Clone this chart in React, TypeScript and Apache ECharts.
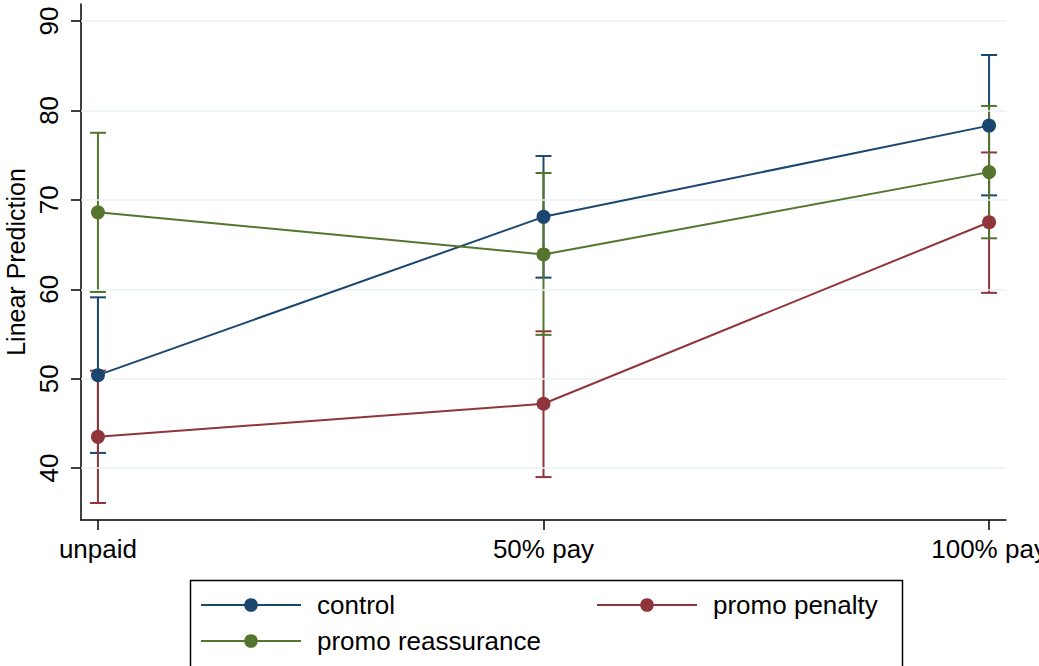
import React, { useEffect, useRef } from "react";
import * as echarts from "echarts";

const categories = ["unpaid", "50% pay", "100% pay"];
const seriesNames = ["control", "promo penalty", "promo reassurance"];
const colors = ["#1a476f", "#90353b", "#55752f"];

const controlMean = [50.4, 68.1, 78.3];
const controlLow = [41.7, 61.3, 70.5];
const controlHigh = [59.1, 74.9, 86.2];

const penaltyMean = [43.5, 47.2, 67.5];
const penaltyLow = [36.1, 39.0, 59.6];
const penaltyHigh = [50.9, 55.3, 75.3];

const reassMean = [68.6, 63.9, 73.1];
const reassLow = [59.7, 54.9, 65.7];
const reassHigh = [77.5, 73.0, 80.5];

const yTicks = [40, 50, 60, 70, 80, 90];
const xTicks = [0, 1, 2];

const FONT = "'Liberation Sans', Helvetica, Arial, sans-serif";

export default function App() {
  const ref = useRef<HTMLDivElement>(null);

  useEffect(() => {
    if (!ref.current) return;
    const chart = echarts.init(ref.current, null, { renderer: "svg" });

    const means = [controlMean, penaltyMean, reassMean];
    const lows = [controlLow, penaltyLow, reassLow];
    const highs = [controlHigh, penaltyHigh, reassHigh];

    const errSeries = means.map((m, s) => ({
      type: "custom",
      name: seriesNames[s] + " CI",
      z: 2,
      silent: true,
      encode: { x: 0, y: [1, 2] },
      data: m.map((_, i) => [i, lows[s][i], highs[s][i]]),
      renderItem: (params: any, api: any) => {
        const x = api.value(0);
        const lo = api.coord([x, api.value(1)]);
        const hi = api.coord([x, api.value(2)]);
        const half = 8;
        const st = { stroke: colors[s], lineWidth: 2 };
        return {
          type: "group",
          children: [
            { type: "line", shape: { x1: lo[0], y1: lo[1], x2: hi[0], y2: hi[1] }, style: st },
            { type: "line", shape: { x1: lo[0] - half, y1: lo[1], x2: lo[0] + half, y2: lo[1] }, style: st },
            { type: "line", shape: { x1: hi[0] - half, y1: hi[1], x2: hi[0] + half, y2: hi[1] }, style: st },
          ],
        };
      },
    }));

    const lineSeries = means.map((m, s) => ({
      type: "line",
      name: seriesNames[s],
      z: 10,
      clip: false,
      data: m.map((v, i) => [i, v]),
      symbol: "circle",
      symbolSize: 14,
      showAllSymbol: true,
      color: colors[s],
      itemStyle: { color: colors[s], opacity: 1 },
      lineStyle: { color: colors[s], width: 2 },
    }));

    const gridSeries = {
      type: "line",
      name: "grid",
      z: 1,
      data: [],
      silent: true,
      markLine: {
        silent: true,
        symbol: "none",
        label: { show: false },
        lineStyle: { color: "#eaf2f3", width: 1.5, type: "solid" },
        data: yTicks.map((v) => ({ yAxis: v })),
      },
    };

    const legendCommon = {
      orient: "horizontal",
      padding: 0,
      itemWidth: 100,
      itemHeight: 17,
      selectedMode: false,
      textStyle: { fontFamily: FONT, fontSize: 26, color: "#000", padding: [0, 0, 0, 11] },
    };

    chart.setOption({
      animation: false,
      backgroundColor: "#fff",
      textStyle: { fontFamily: FONT },
      grid: { left: 81, right: 33, top: 4, bottom: 146, containLabel: false, outerBoundsMode: "none" },
      xAxis: {
        type: "value",
        min: -0.038,
        max: 2.038,
        axisLine: { show: true, onZero: false, lineStyle: { color: "#000", width: 1.5 } },
        axisTick: { show: true, length: 10, customValues: xTicks, lineStyle: { color: "#000", width: 1.5 } },
        axisLabel: {
          customValues: xTicks,
          formatter: (v: number) => categories[Math.round(v)],
          fontFamily: FONT,
          fontSize: 26,
          color: "#000",
          margin: 16,
          hideOverlap: false,
        },
        splitLine: { show: false },
      },
      yAxis: {
        type: "value",
        min: 34.2,
        max: 91.9,
        name: "Linear Prediction",
        nameLocation: "middle",
        nameRotate: 90,
        nameGap: 47,
        nameTextStyle: { fontFamily: FONT, fontSize: 25, color: "#000" },
        axisLine: { show: true, onZero: false, lineStyle: { color: "#000", width: 1.5 } },
        axisTick: { show: true, length: 10, customValues: yTicks, lineStyle: { color: "#000", width: 1.5 } },
        axisLabel: {
          customValues: yTicks,
          rotate: 90,
          fontFamily: FONT,
          fontSize: 26,
          color: "#000",
          margin: 19,
        },
        splitLine: { show: false },
      },
      legend: [
        { ...legendCommon, left: 200, top: 592, data: ["control"] },
        { ...legendCommon, left: 596, top: 592, data: ["promo penalty"] },
        { ...legendCommon, left: 200, top: 628, data: ["promo reassurance"] },
      ],
      graphic: [
        {
          type: "rect",
          left: 188,
          top: 578,
          shape: { width: 712, height: 120 },
          style: { fill: "none", stroke: "#000", lineWidth: 1.5 },
          silent: true,
        },
      ],
      series: [gridSeries, ...errSeries, ...lineSeries],
    });

    return () => chart.dispose();
  }, []);

  return <div ref={ref} style={{ width: 1039, height: 666, position: "absolute", left: 0, top: 0 }} />;
}
